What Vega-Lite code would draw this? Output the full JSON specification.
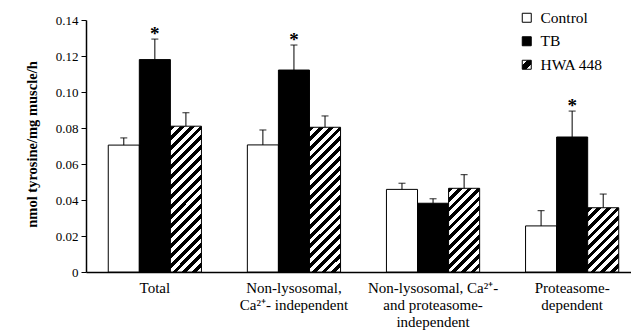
{
  "$schema": "https://vega.github.io/schema/vega-lite/v6.json",
  "width": 555,
  "height": 252,
  "autosize": "none",
  "padding": {"left": 86, "top": 20, "right": 0, "bottom": 63},
  "config": {
    "view": {"stroke": null},
    "font": "Liberation Serif",
    "axis": {"domainColor": "black", "domainWidth": 1.5, "labelColor": "black", "tickColor": "black", "grid": false, "labelFont": "Liberation Serif", "titleFont": "Liberation Serif", "titleColor": "black"},
    "legend": {"labelFont": "Liberation Serif"},
    "text": {"font": "Liberation Serif"}
  },
  "data": {
    "values": [
      {"category": "Total", "series": "Control", "value": 0.0705, "upper": 0.0745, "sig": ""},
      {"category": "Total", "series": "TB", "value": 0.118, "upper": 0.1294, "sig": "*"},
      {"category": "Total", "series": "HWA 448", "value": 0.081, "upper": 0.0885, "sig": ""},
      {"category": "Non-lysosomal,|Ca²⁺- independent", "series": "Control", "value": 0.0706, "upper": 0.0789, "sig": ""},
      {"category": "Non-lysosomal,|Ca²⁺- independent", "series": "TB", "value": 0.1122, "upper": 0.1261, "sig": "*"},
      {"category": "Non-lysosomal,|Ca²⁺- independent", "series": "HWA 448", "value": 0.0804, "upper": 0.0867, "sig": ""},
      {"category": "Non-lysosomal, Ca²⁺-|and proteasome-|independent", "series": "Control", "value": 0.0459, "upper": 0.0493, "sig": ""},
      {"category": "Non-lysosomal, Ca²⁺-|and proteasome-|independent", "series": "TB", "value": 0.0382, "upper": 0.0407, "sig": ""},
      {"category": "Non-lysosomal, Ca²⁺-|and proteasome-|independent", "series": "HWA 448", "value": 0.0465, "upper": 0.0541, "sig": ""},
      {"category": "Proteasome-|dependent", "series": "Control", "value": 0.0256, "upper": 0.0341, "sig": ""},
      {"category": "Proteasome-|dependent", "series": "TB", "value": 0.075, "upper": 0.0894, "sig": "*"},
      {"category": "Proteasome-|dependent", "series": "HWA 448", "value": 0.0357, "upper": 0.0433, "sig": ""}
    ]
  },
  "encoding": {
    "x": {
      "field": "category", "type": "nominal", "sort": null,
      "scale": {"paddingInner": 0.33, "paddingOuter": 0.16},
      "axis": {"title": null, "labelExpr": "split(datum.label, '|')", "ticks": false, "labelAngle": 0, "labelFontSize": 15, "labelPadding": 8, "labelLineHeight": 17, "labelBaseline": "top", "labelOverlap": false, "labelFlush": false}
    },
    "xOffset": {"field": "series", "type": "nominal", "sort": ["Control", "TB", "HWA 448"], "scale": {"paddingInner": 0, "paddingOuter": 0}}
  },
  "layer": [
    {
      "mark": {"type": "bar", "stroke": "black", "strokeWidth": 1},
      "encoding": {
        "y": {
          "field": "value", "type": "quantitative",
          "scale": {"domain": [0, 0.14], "nice": false},
          "axis": {"values": [0, 0.02, 0.04, 0.06, 0.08, 0.1, 0.12, 0.14], "labelOverlap": false, "labelExpr": "datum.value === 0 ? '0' : format(datum.value, '.2f')", "tickSize": 5, "labelFontSize": 13, "labelPadding": 3, "title": "nmol tyrosine/mg muscle/h", "titleFontWeight": "bold", "titleFontSize": 14.5, "titleX": -54, "titleY": 124, "titleAngle": -90, "titleAlign": "center", "titleBaseline": "middle"}
        },
        "fill": {
          "field": "series", "type": "nominal",
          "scale": {"domain": ["Control", "TB", "HWA 448"], "range": ["white", "black", {"expr": "{gradient: 'linear', x1: 0, y1: 0, x2: 1, y2: 1, stops: [{offset: 0, color: '#fff'}, {offset: 0.3, color: '#fff'}, {offset: 0.3, color: '#000'}, {offset: 0.7, color: '#000'}, {offset: 0.7, color: '#fff'}, {offset: 1, color: '#fff'}]}"}]},
          "legend": {
            "title": null, "orient": "none", "legendX": 433, "legendY": -10, "padding": 0,
            "symbolType": "square", "symbolSize": 81, "symbolStrokeColor": "black", "symbolStrokeWidth": 1,
            "labelFontSize": 15.5, "labelColor": "black", "rowPadding": 6.5, "labelOffset": 6
          },
          "condition": [
            {"test": "datum.series === 'HWA 448' && datum.value > 0.07", "value": {"gradient": "linear", "x1": 0, "y1": 0, "x2": 0.248, "y2": 1.161, "stops": [
              {"offset": 0, "color": "#000"}, {"offset": 0.028, "color": "#000"}, {"offset": 0.028, "color": "#fff"}, {"offset": 0.056, "color": "#fff"},
              {"offset": 0.056, "color": "#000"}, {"offset": 0.083, "color": "#000"}, {"offset": 0.083, "color": "#fff"}, {"offset": 0.111, "color": "#fff"},
              {"offset": 0.111, "color": "#000"}, {"offset": 0.139, "color": "#000"}, {"offset": 0.139, "color": "#fff"}, {"offset": 0.167, "color": "#fff"},
              {"offset": 0.167, "color": "#000"}, {"offset": 0.194, "color": "#000"}, {"offset": 0.194, "color": "#fff"}, {"offset": 0.222, "color": "#fff"},
              {"offset": 0.222, "color": "#000"}, {"offset": 0.25, "color": "#000"}, {"offset": 0.25, "color": "#fff"}, {"offset": 0.278, "color": "#fff"},
              {"offset": 0.278, "color": "#000"}, {"offset": 0.306, "color": "#000"}, {"offset": 0.306, "color": "#fff"}, {"offset": 0.333, "color": "#fff"},
              {"offset": 0.333, "color": "#000"}, {"offset": 0.361, "color": "#000"}, {"offset": 0.361, "color": "#fff"}, {"offset": 0.389, "color": "#fff"},
              {"offset": 0.389, "color": "#000"}, {"offset": 0.417, "color": "#000"}, {"offset": 0.417, "color": "#fff"}, {"offset": 0.444, "color": "#fff"},
              {"offset": 0.444, "color": "#000"}, {"offset": 0.472, "color": "#000"}, {"offset": 0.472, "color": "#fff"}, {"offset": 0.5, "color": "#fff"},
              {"offset": 0.5, "color": "#000"}, {"offset": 0.528, "color": "#000"}, {"offset": 0.528, "color": "#fff"}, {"offset": 0.556, "color": "#fff"},
              {"offset": 0.556, "color": "#000"}, {"offset": 0.583, "color": "#000"}, {"offset": 0.583, "color": "#fff"}, {"offset": 0.611, "color": "#fff"},
              {"offset": 0.611, "color": "#000"}, {"offset": 0.639, "color": "#000"}, {"offset": 0.639, "color": "#fff"}, {"offset": 0.667, "color": "#fff"},
              {"offset": 0.667, "color": "#000"}, {"offset": 0.694, "color": "#000"}, {"offset": 0.694, "color": "#fff"}, {"offset": 0.722, "color": "#fff"},
              {"offset": 0.722, "color": "#000"}, {"offset": 0.75, "color": "#000"}, {"offset": 0.75, "color": "#fff"}, {"offset": 0.778, "color": "#fff"},
              {"offset": 0.778, "color": "#000"}, {"offset": 0.806, "color": "#000"}, {"offset": 0.806, "color": "#fff"}, {"offset": 0.833, "color": "#fff"},
              {"offset": 0.833, "color": "#000"}, {"offset": 0.861, "color": "#000"}, {"offset": 0.861, "color": "#fff"}, {"offset": 0.889, "color": "#fff"},
              {"offset": 0.889, "color": "#000"}, {"offset": 0.917, "color": "#000"}, {"offset": 0.917, "color": "#fff"}, {"offset": 0.944, "color": "#fff"},
              {"offset": 0.944, "color": "#000"}, {"offset": 0.972, "color": "#000"}, {"offset": 0.972, "color": "#fff"}, {"offset": 1, "color": "#fff"}
            ]}},
            {"test": "datum.series === 'HWA 448' && datum.value > 0.04", "value": {"gradient": "linear", "x1": 0, "y1": 0, "x2": 0.4475, "y2": 1.2055, "stops": [
              {"offset": 0, "color": "#000"}, {"offset": 0.042, "color": "#000"}, {"offset": 0.042, "color": "#fff"}, {"offset": 0.083, "color": "#fff"},
              {"offset": 0.083, "color": "#000"}, {"offset": 0.125, "color": "#000"}, {"offset": 0.125, "color": "#fff"}, {"offset": 0.167, "color": "#fff"},
              {"offset": 0.167, "color": "#000"}, {"offset": 0.208, "color": "#000"}, {"offset": 0.208, "color": "#fff"}, {"offset": 0.25, "color": "#fff"},
              {"offset": 0.25, "color": "#000"}, {"offset": 0.292, "color": "#000"}, {"offset": 0.292, "color": "#fff"}, {"offset": 0.333, "color": "#fff"},
              {"offset": 0.333, "color": "#000"}, {"offset": 0.375, "color": "#000"}, {"offset": 0.375, "color": "#fff"}, {"offset": 0.417, "color": "#fff"},
              {"offset": 0.417, "color": "#000"}, {"offset": 0.458, "color": "#000"}, {"offset": 0.458, "color": "#fff"}, {"offset": 0.5, "color": "#fff"},
              {"offset": 0.5, "color": "#000"}, {"offset": 0.542, "color": "#000"}, {"offset": 0.542, "color": "#fff"}, {"offset": 0.583, "color": "#fff"},
              {"offset": 0.583, "color": "#000"}, {"offset": 0.625, "color": "#000"}, {"offset": 0.625, "color": "#fff"}, {"offset": 0.667, "color": "#fff"},
              {"offset": 0.667, "color": "#000"}, {"offset": 0.708, "color": "#000"}, {"offset": 0.708, "color": "#fff"}, {"offset": 0.75, "color": "#fff"},
              {"offset": 0.75, "color": "#000"}, {"offset": 0.792, "color": "#000"}, {"offset": 0.792, "color": "#fff"}, {"offset": 0.833, "color": "#fff"},
              {"offset": 0.833, "color": "#000"}, {"offset": 0.875, "color": "#000"}, {"offset": 0.875, "color": "#fff"}, {"offset": 0.917, "color": "#fff"},
              {"offset": 0.917, "color": "#000"}, {"offset": 0.958, "color": "#000"}, {"offset": 0.958, "color": "#fff"}, {"offset": 1, "color": "#fff"}
            ]}},
            {"test": "datum.series === 'HWA 448'", "value": {"gradient": "linear", "x1": 0, "y1": 0, "x2": 0.5812, "y2": 1.2028, "stops": [
              {"offset": 0, "color": "#000"}, {"offset": 0.05, "color": "#000"}, {"offset": 0.05, "color": "#fff"}, {"offset": 0.1, "color": "#fff"},
              {"offset": 0.1, "color": "#000"}, {"offset": 0.15, "color": "#000"}, {"offset": 0.15, "color": "#fff"}, {"offset": 0.2, "color": "#fff"},
              {"offset": 0.2, "color": "#000"}, {"offset": 0.25, "color": "#000"}, {"offset": 0.25, "color": "#fff"}, {"offset": 0.3, "color": "#fff"},
              {"offset": 0.3, "color": "#000"}, {"offset": 0.35, "color": "#000"}, {"offset": 0.35, "color": "#fff"}, {"offset": 0.4, "color": "#fff"},
              {"offset": 0.4, "color": "#000"}, {"offset": 0.45, "color": "#000"}, {"offset": 0.45, "color": "#fff"}, {"offset": 0.5, "color": "#fff"},
              {"offset": 0.5, "color": "#000"}, {"offset": 0.55, "color": "#000"}, {"offset": 0.55, "color": "#fff"}, {"offset": 0.6, "color": "#fff"},
              {"offset": 0.6, "color": "#000"}, {"offset": 0.65, "color": "#000"}, {"offset": 0.65, "color": "#fff"}, {"offset": 0.7, "color": "#fff"},
              {"offset": 0.7, "color": "#000"}, {"offset": 0.75, "color": "#000"}, {"offset": 0.75, "color": "#fff"}, {"offset": 0.8, "color": "#fff"},
              {"offset": 0.8, "color": "#000"}, {"offset": 0.85, "color": "#000"}, {"offset": 0.85, "color": "#fff"}, {"offset": 0.9, "color": "#fff"},
              {"offset": 0.9, "color": "#000"}, {"offset": 0.95, "color": "#000"}, {"offset": 0.95, "color": "#fff"}, {"offset": 1, "color": "#fff"}
            ]}}
          ]
        }
      }
    },
    {
      "mark": {"type": "rule", "color": "black", "strokeWidth": 1},
      "encoding": {
        "y": {"field": "value", "type": "quantitative",
          "axis": {"values": [0, 0.02, 0.04, 0.06, 0.08, 0.1, 0.12, 0.14], "labelOverlap": false, "labelExpr": "datum.value === 0 ? '0' : format(datum.value, '.2f')", "tickSize": 5, "labelFontSize": 13, "labelPadding": 3, "title": "nmol tyrosine/mg muscle/h", "titleFontWeight": "bold", "titleFontSize": 14.5, "titleX": -54, "titleY": 124, "titleAngle": -90, "titleAlign": "center", "titleBaseline": "middle"}},
        "y2": {"field": "upper"}
      }
    },
    {
      "mark": {"type": "tick", "color": "black", "thickness": 1.2, "size": 7},
      "encoding": {
        "y": {"field": "upper", "type": "quantitative",
          "axis": {"values": [0, 0.02, 0.04, 0.06, 0.08, 0.1, 0.12, 0.14], "labelOverlap": false, "labelExpr": "datum.value === 0 ? '0' : format(datum.value, '.2f')", "tickSize": 5, "labelFontSize": 13, "labelPadding": 3, "title": "nmol tyrosine/mg muscle/h", "titleFontWeight": "bold", "titleFontSize": 14.5, "titleX": -54, "titleY": 124, "titleAngle": -90, "titleAlign": "center", "titleBaseline": "middle"}}
      }
    },
    {
      "mark": {"type": "text", "fontSize": 19, "fontWeight": "bold", "baseline": "alphabetic", "dy": 1, "color": "black"},
      "encoding": {
        "y": {"field": "upper", "type": "quantitative",
          "axis": {"values": [0, 0.02, 0.04, 0.06, 0.08, 0.1, 0.12, 0.14], "labelOverlap": false, "labelExpr": "datum.value === 0 ? '0' : format(datum.value, '.2f')", "tickSize": 5, "labelFontSize": 13, "labelPadding": 3, "title": "nmol tyrosine/mg muscle/h", "titleFontWeight": "bold", "titleFontSize": 14.5, "titleX": -54, "titleY": 124, "titleAngle": -90, "titleAlign": "center", "titleBaseline": "middle"}},
        "text": {"field": "sig"}
      }
    }
  ]
}
